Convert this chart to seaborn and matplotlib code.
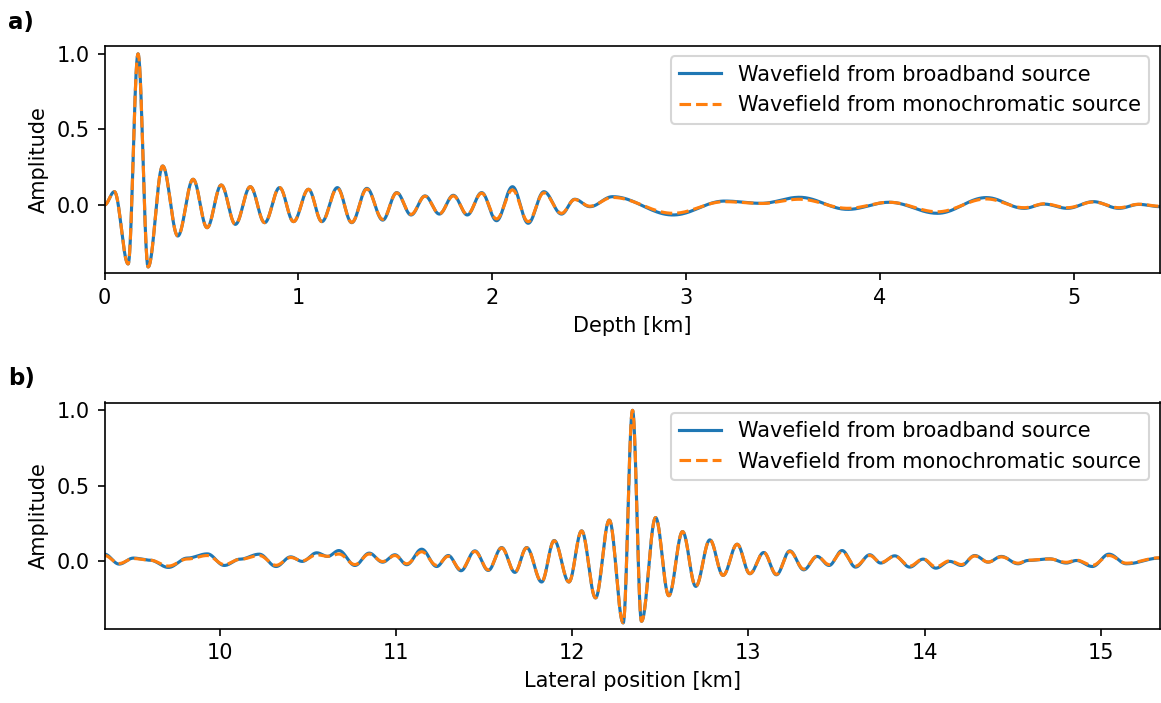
import numpy as np
import pandas as pd
import matplotlib
matplotlib.use("Agg")
import matplotlib.pyplot as plt
import seaborn as sns

# ---- data (extrema of each trace) ----
depth_km = [0.000, 0.051, 0.122, 0.173, 0.225, 0.300, 0.378, 0.457, 0.529, 0.602,
            0.675, 0.752, 0.826, 0.903, 0.975, 1.052, 1.121, 1.201, 1.275, 1.353,
            1.435, 1.507, 1.581, 1.653, 1.727, 1.799, 1.871, 1.945, 2.022, 2.104,
            2.185, 2.266, 2.357, 2.425, 2.503, 2.620, 2.932, 3.198, 3.387, 3.584,
            3.833, 4.047, 4.296, 4.548, 4.743, 4.846, 4.966, 5.100, 5.232, 5.335,
            5.443]
depth_broadband = [0.000, 0.088, -0.390, 1.000, -0.410, 0.258, -0.205, 0.170, -0.150, 0.132,
                   -0.128, 0.121, -0.117, 0.115, -0.110, 0.104, -0.110, 0.115, -0.117, 0.110,
                   -0.100, 0.082, -0.066, 0.060, -0.060, 0.064, -0.066, 0.082, -0.104, 0.121,
                   -0.121, 0.088, -0.060, 0.038, -0.011, 0.055, -0.066, 0.026, 0.011, 0.051,
                   -0.029, 0.018, -0.055, 0.049, -0.022, 0.006, -0.022, 0.022, -0.022, 0.004,
                   -0.011]
depth_monochromatic = [0.000, 0.088, -0.390, 1.000, -0.410, 0.258, -0.205, 0.170, -0.150, 0.132,
                       -0.128, 0.121, -0.117, 0.115, -0.110, 0.104, -0.110, 0.110, -0.115, 0.105,
                       -0.095, 0.080, -0.062, 0.058, -0.058, 0.060, -0.062, 0.078, -0.092, 0.100,
                       -0.110, 0.080, -0.055, 0.036, -0.008, 0.050, -0.055, 0.022, 0.010, 0.038,
                       -0.022, 0.018, -0.045, 0.040, -0.018, 0.008, -0.018, 0.020, -0.018, 0.005,
                       -0.008]

lateral_km = [9.344, 9.427, 9.508, 9.603, 9.707, 9.814, 9.928, 10.024, 10.114, 10.223,
              10.318, 10.401, 10.467, 10.549, 10.611, 10.675, 10.766, 10.847, 10.923, 10.993,
              11.060, 11.145, 11.230, 11.296, 11.368, 11.447, 11.523, 11.599, 11.674, 11.741,
              11.826, 11.897, 11.981, 12.053, 12.132, 12.210, 12.289, 12.342, 12.393, 12.473,
              12.548, 12.626, 12.701, 12.781, 12.856, 12.936, 13.008, 13.087, 13.159, 13.235,
              13.314, 13.390, 13.458, 13.532, 13.608, 13.689, 13.751, 13.831, 13.916, 13.992,
              14.064, 14.143, 14.209, 14.285, 14.361, 14.436, 14.531, 14.587, 14.711, 14.805,
              14.862, 14.953, 15.047, 15.146, 15.334]
lateral_broadband = [0.044, -0.022, 0.018, 0.004, -0.044, 0.018, 0.046, -0.031, 0.011, 0.044,
                     -0.038, 0.026, -0.004, 0.053, 0.029, 0.068, -0.031, 0.051, -0.009, 0.040,
                     -0.026, 0.077, -0.038, 0.035, -0.066, 0.066, -0.064, 0.088, -0.077, 0.088,
                     -0.141, 0.135, -0.141, 0.199, -0.247, 0.271, -0.413, 1.000, -0.402, 0.287,
                     -0.232, 0.194, -0.170, 0.139, -0.097, 0.110, -0.086, 0.055, -0.093, 0.066,
                     -0.060, 0.029, -0.031, 0.068, -0.042, 0.040, -0.015, 0.033, -0.042, 0.011,
                     -0.049, -0.004, -0.031, 0.035, -0.009, 0.029, -0.020, 0.002, 0.013, -0.015,
                     0.002, -0.038, 0.044, -0.020, 0.018]
lateral_monochromatic = [0.035, -0.018, 0.015, 0.004, -0.035, 0.012, 0.035, -0.025, 0.010, 0.035,
                         -0.030, 0.022, 0.000, 0.040, 0.030, 0.045, -0.025, 0.045, -0.005, 0.035,
                         -0.020, 0.060, -0.030, 0.030, -0.060, 0.062, -0.060, 0.085, -0.075, 0.086,
                         -0.138, 0.133, -0.140, 0.198, -0.246, 0.270, -0.412, 1.000, -0.402, 0.287,
                         -0.232, 0.194, -0.170, 0.139, -0.097, 0.110, -0.085, 0.055, -0.090, 0.062,
                         -0.055, 0.030, -0.025, 0.060, -0.035, 0.035, -0.012, 0.030, -0.035, 0.012,
                         -0.040, 0.000, -0.025, 0.032, -0.008, 0.026, -0.016, 0.004, 0.012, -0.010,
                         0.004, -0.030, 0.035, -0.016, 0.020]

series_labels = ["Wavefield from broadband source", "Wavefield from monochromatic source"]
colors = ["#1f77b4", "#ff7f0e"]


def trace(xk, yk, n=40):
    """Smooth rendering through the read extrema (half-cosine between knots)."""
    xs, ys = [], []
    for i in range(len(xk) - 1):
        t = np.linspace(0, 1, n, endpoint=False)
        w = (1 - np.cos(np.pi * t)) / 2
        xs.append(xk[i] + (xk[i + 1] - xk[i]) * t)
        ys.append(yk[i] + (yk[i + 1] - yk[i]) * w)
    xs.append([xk[-1]])
    ys.append([yk[-1]])
    return np.concatenate(xs), np.concatenate(ys)


def frame(xk, series):
    parts = []
    for lab, yk in zip(series_labels, series):
        x, y = trace(xk, yk)
        parts.append(pd.DataFrame({"x": x, "amp": y, "source": lab}))
    return pd.concat(parts, ignore_index=True)


plt.rcParams["font.family"] = ["DejaVu Sans"]
fig = plt.figure(figsize=(1161 / 150, 703 / 150), dpi=150)
ax1 = fig.add_axes([104.5 / 1161, 1 - 273 / 703, (1159.5 - 104.5) / 1161, (273 - 46) / 703])
ax2 = fig.add_axes([104.5 / 1161, 1 - 628.5 / 703, (1159.5 - 104.5) / 1161, (628.5 - 402.5) / 703])

panels = [
    (ax1, depth_km, [depth_broadband, depth_monochromatic], "Depth [km]", (0, 5.441), "a)"),
    (ax2, lateral_km, [lateral_broadband, lateral_monochromatic], "Lateral position [km]", (9.344, 15.334), "b)"),
]

for ax, xk, series, xlabel, xlim, tag in panels:
    df = frame(xk, series)
    sns.lineplot(data=df, x="x", y="amp", hue="source", style="source",
                 hue_order=series_labels, style_order=series_labels,
                 palette=colors, dashes=["", (3.7, 1.6)], estimator=None,
                 sort=False, linewidth=1.5, legend=False, ax=ax)
    ax.set_xlim(*xlim)
    ax.set_ylim(-0.45, 1.052)
    ax.set_yticks([0.0, 0.5, 1.0])
    ax.set_xlabel(xlabel, fontsize=10)
    ax.set_ylabel("Amplitude", fontsize=10)
    ax.tick_params(labelsize=10)
    ax.legend(handles=ax.lines[:2], labels=series_labels, loc="upper right", fontsize=10)

ax1.set_xticks([0, 1, 2, 3, 4, 5])
ax2.set_xticks([10, 11, 12, 13, 14, 15])

fig.text(8 / 1161, 1 - 22 / 703, "a)", fontsize=11, fontweight="bold", va="center", ha="left")
fig.text(8 / 1161, 1 - 378 / 703, "b)", fontsize=11, fontweight="bold", va="center", ha="left")

fig.savefig("out.png", dpi=150)
